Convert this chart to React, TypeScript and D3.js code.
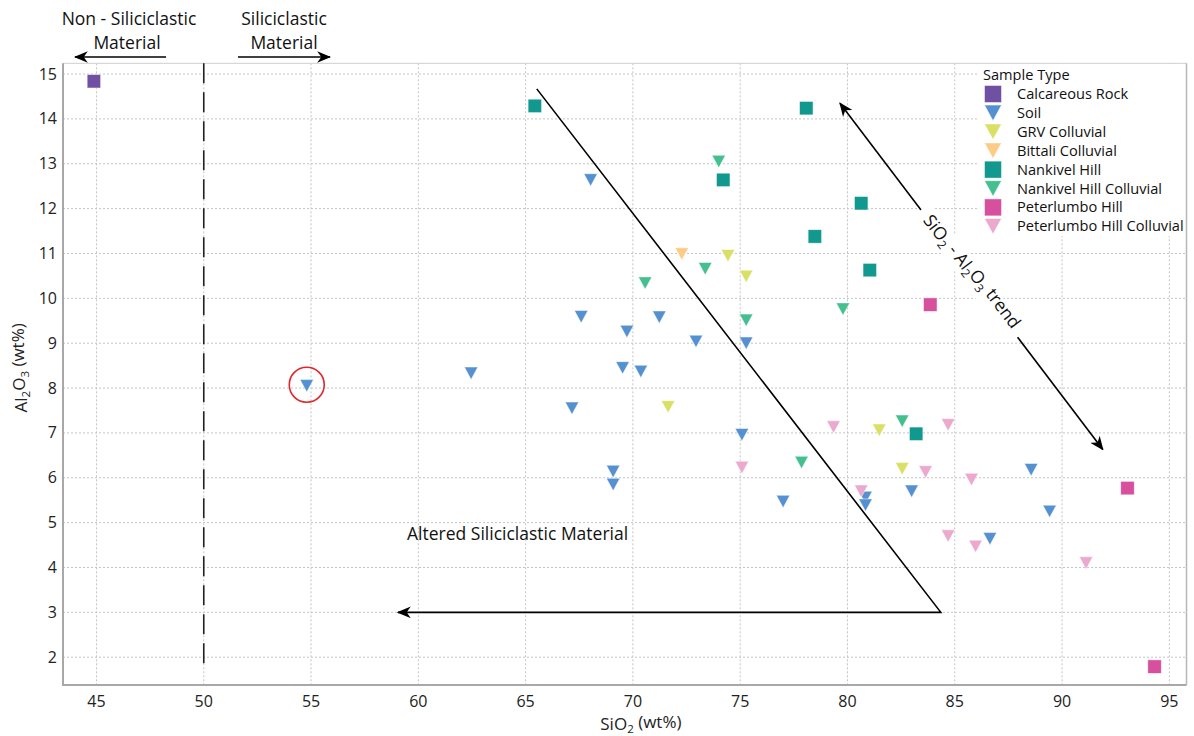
import React from "react";
import * as d3 from "d3";

// sample categories, legend order
const sampleTypes = [
  "Calcareous Rock",
  "Soil",
  "GRV Colluvial",
  "Bittali Colluvial",
  "Nankivel Hill",
  "Nankivel Hill Colluvial",
  "Peterlumbo Hill",
  "Peterlumbo Hill Colluvial",
];
const typeColors = ["#7050a3", "#5590d0", "#d9e065", "#fdcb88", "#12998f", "#44bf90", "#d6509e", "#eaa9cd"];
const typeShapes = ["square", "triangle", "triangle", "triangle", "square", "triangle", "square", "triangle"];

// [SiO2, Al2O3]
const calcareousRock = [[44.88, 14.84]];
const soil = [
  [54.8, 8.05], [62.46, 8.33], [67.16, 7.55], [67.59, 9.59], [68.03, 12.64],
  [69.08, 6.14], [69.08, 5.85], [69.52, 8.45], [69.72, 9.26], [70.37, 8.37],
  [71.23, 9.58], [72.94, 9.04], [75.08, 6.96], [75.28, 9.0], [77.0, 5.47],
  [80.84, 5.56], [80.84, 5.39], [82.99, 5.7], [86.64, 4.64], [88.56, 6.18], [89.42, 5.25],
];
const grvColluvial = [[71.64, 7.58], [74.43, 10.95], [75.28, 10.49], [81.48, 7.06], [82.55, 6.2]];
const bittaliColluvial = [[72.28, 10.99]];
const nankivelHill = [
  [65.43, 14.29], [78.08, 14.24], [74.21, 12.64], [80.64, 12.12], [78.48, 11.38], [81.04, 10.63], [83.2, 6.98],
];
const nankivelHillColluvial = [
  [74.0, 13.05], [73.37, 10.66], [70.57, 10.34], [79.79, 9.76], [75.28, 9.51], [82.55, 7.26], [77.86, 6.34],
];
const peterlumboHill = [[83.86, 9.86], [93.05, 5.77], [94.31, 1.79]];
const peterlumboHillColluvial = [
  [79.35, 7.13], [84.69, 7.18], [75.08, 6.23], [83.64, 6.13], [85.78, 5.96],
  [80.64, 5.7], [84.69, 4.7], [85.97, 4.47], [91.12, 4.1],
];
const seriesData = [
  calcareousRock, soil, grvColluvial, bittaliColluvial,
  nankivelHill, nankivelHillColluvial, peterlumboHill, peterlumboHillColluvial,
];

const xTicks = [45, 50, 55, 60, 65, 70, 75, 80, 85, 90, 95];
const yTicks = [2, 3, 4, 5, 6, 7, 8, 9, 10, 11, 12, 13, 14, 15];

// annotation anchors in data units
const boundaryX = 50;
const circledPoint = [54.8, 8.05];
const alterationPath = [[65.52, 14.67], [84.35, 3.0], [59.05, 3.0]];
const trendEnds = [[79.65, 14.35], [91.9, 6.63]];

const font = "'Open Sans', sans-serif";

function Marker({ shape, x, y, color, s }: any) {
  if (shape === "square") {
    return <rect x={x - s / 2} y={y - s / 2} width={s} height={s} fill={color} stroke="#fff" strokeWidth={0.7} strokeOpacity={0.7} />;
  }
  const w = s, h = s * 0.92;
  const p = `M${x - w / 2},${y - h / 2}L${x + w / 2},${y - h / 2}L${x},${y + h / 2}Z`;
  return <path d={p} fill={color} stroke="#fff" strokeWidth={0.7} strokeOpacity={0.7} />;
}

function Sub({ children }: any) {
  return <tspan fontSize="0.68em" dy="0.3em">{children}</tspan>;
}

export default function App() {
  const width = 1194, height = 736;
  const plot = { left: 63, right: 1186.5, top: 63.3, bottom: 685 };

  const x = d3.scaleLinear().domain([43.44, 95.8]).range([plot.left, plot.right]);
  const y = d3.scaleLinear().domain([1.38, 15.24]).range([plot.bottom, plot.top]);

  const line = d3.line().x((d: any) => x(d[0])).y((d: any) => y(d[1]));

  const t0 = [x(trendEnds[0][0]), y(trendEnds[0][1])];
  const t1 = [x(trendEnds[1][0]), y(trendEnds[1][1])];
  const ang = (Math.atan2(t1[1] - t0[1], t1[0] - t0[0]) * 180) / Math.PI;
  const tc = [970, 273];

  return (
    <svg width={width} height={height} style={{ position: "absolute", left: 0, top: 0, background: "#fff" }} fontFamily={font}>
      <defs>
        <marker id="ah" viewBox="0 0 12 10" refX="11" refY="5" markerWidth="14" markerHeight="12" markerUnits="userSpaceOnUse" orient="auto-start-reverse">
          <path d="M0,0 L12,5 L0,10 L3.5,5 Z" fill="#000" />
        </marker>
      </defs>

      {/* grid */}
      <g stroke="#c4c4c4" strokeDasharray="2,2" strokeWidth={1}>
        {xTicks.map((t) => (
          <line key={"gx" + t} x1={x(t)} x2={x(t)} y1={plot.top} y2={plot.bottom} />
        ))}
        {yTicks.map((t) => (
          <line key={"gy" + t} x1={plot.left} x2={plot.right} y1={y(t)} y2={y(t)} />
        ))}
      </g>

      {/* legend background */}
      <rect x={977} y={64} width={plot.right - 977} height={172} fill="#fff" />

      {/* frame */}
      <line x1={plot.left} x2={plot.right} y1={plot.top} y2={plot.top} stroke="#cfcfcf" strokeWidth={1} />
      <line x1={plot.right} x2={plot.right} y1={plot.top} y2={plot.bottom} stroke="#b8b8b8" strokeWidth={1.5} />
      <line x1={plot.left} x2={plot.left} y1={plot.top} y2={plot.bottom + 1} stroke="#a8a8a8" strokeWidth={2} />
      <line x1={plot.left} x2={plot.right} y1={plot.bottom} y2={plot.bottom} stroke="#a8a8a8" strokeWidth={2} />

      {/* tick labels */}
      <g fontSize={16} fill="#222">
        {xTicks.map((t) => (
          <text key={"tx" + t} x={x(t)} y={plot.bottom + 22} textAnchor="middle">{t}</text>
        ))}
        {yTicks.map((t) => (
          <text key={"ty" + t} x={plot.left - 6} y={y(t) + 5.5} textAnchor="end">{t}</text>
        ))}
      </g>

      {/* axis titles */}
      <text x={x(70) + 8} y={730} textAnchor="middle" fontSize={17} fill="#222">
        SiO<Sub>2</Sub><tspan dy="-0.3em"> (wt%)</tspan>
      </text>
      <text transform={`translate(27,${y(8.45)}) rotate(-90)`} textAnchor="middle" fontSize={17} fill="#222">
        Al<Sub>2</Sub><tspan dy="-0.3em">O</tspan><Sub>3</Sub><tspan dy="-0.3em"> (wt%)</tspan>
      </text>

      {/* siliciclastic boundary */}
      <line x1={x(boundaryX)} x2={x(boundaryX)} y1={plot.top} y2={y(1.8)} stroke="#222" strokeWidth={1.6} strokeDasharray="20,9" />
      <g fontSize={17.5} fill="#111" textAnchor="middle">
        <text x={129} y={25}>Non - Siliciclastic</text>
        <text x={127} y={49}>Material</text>
        <text x={284} y={25}>Siliciclastic</text>
        <text x={284} y={49}>Material</text>
      </g>
      <line x1={166} x2={75} y1={57} y2={57} stroke="#000" strokeWidth={1.6} markerEnd="url(#ah)" />
      <line x1={238} x2={330} y1={57} y2={57} stroke="#000" strokeWidth={1.6} markerEnd="url(#ah)" />

      {/* points */}
      {seriesData.map((pts, i) =>
        pts.map((d, j) => (
          <Marker key={i + "-" + j} shape={typeShapes[i]} x={x(d[0])} y={y(d[1])} color={typeColors[i]} s={13.5} />
        ))
      )}

      {/* circled outlier */}
      <circle cx={x(circledPoint[0])} cy={y(circledPoint[1]) - 1} r={17.5} fill="none" stroke="#e3262b" strokeWidth={1.6} />

      {/* alteration trend */}
      <path d={line(alterationPath as any) || ""} fill="none" stroke="#000" strokeWidth={1.6} markerEnd="url(#ah)" />
      <text x={407} y={540} fontSize={17.5} fill="#111">Altered Siliciclastic Material</text>

      {/* SiO2 - Al2O3 trend */}
      <line x1={t0[0]} y1={t0[1]} x2={t1[0]} y2={t1[1]} stroke="#000" strokeWidth={1.6} markerStart="url(#ah)" markerEnd="url(#ah)" />
      <g transform={`translate(${tc[0]},${tc[1]}) rotate(${ang})`}>
        <rect x={-80} y={-11} width={160} height={22} fill="#fff" />
        <text x={0} y={6} textAnchor="middle" fontSize={17.5} fill="#111">
          SiO<Sub>2</Sub><tspan dy="-0.3em"> - Al</tspan><Sub>2</Sub><tspan dy="-0.3em">O</tspan><Sub>3</Sub><tspan dy="-0.3em"> trend</tspan>
        </text>
      </g>

      {/* legend */}
      <g fontSize={14.6} fill="#111">
        <text x={983} y={80}>Sample Type</text>
        {sampleTypes.map((name, i) => {
          const cy = 94 + i * 18.9;
          return (
            <g key={name}>
              <Marker shape={typeShapes[i]} x={993} y={cy} color={typeColors[i]} s={17} />
              <text x={1017} y={cy + 5}>{name}</text>
            </g>
          );
        })}
      </g>
    </svg>
  );
}
